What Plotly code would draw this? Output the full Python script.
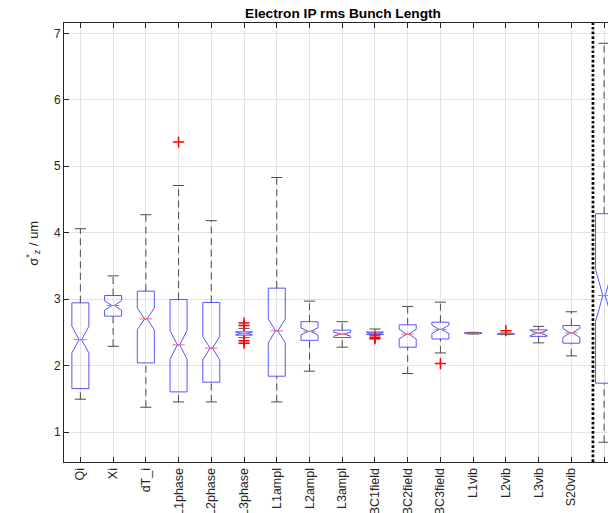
import plotly.graph_objects as go

# ---------------- data ----------------
categories = ["Qi", "Xi", "dT_i", "L1phase", "L2phase", "L3phase", "L1ampl",
              "L2ampl", "L3ampl", "BC1field", "BC2field", "BC3field",
              "L1vib", "L2vib", "L3vib", "S20vib", "All"]

upper_whisker = [4.06, 3.35, 4.27, 4.71, 4.18, 2.56, 4.83, 2.97, 2.66, 2.55,
                 2.89, 2.955, 2.50, 2.49, 2.59, 2.81, 6.85]
q3_values = [2.944, 3.054, 3.12, 2.994, 2.949, 2.508, 3.165, 2.66, 2.533, 2.505,
             2.613, 2.653, 2.492, 2.483, 2.538, 2.603, 4.285]
median_values = [2.39, 2.904, 2.703, 2.312, 2.262, 2.483, 2.523, 2.515, 2.473, 2.488,
                 2.473, 2.545, 2.487, 2.478, 2.49, 2.492, 3.054]
q1_values = [1.654, 2.744, 2.04, 1.604, 1.75, 2.458, 1.84, 2.38, 2.422, 2.467,
             2.277, 2.40, 2.482, 2.472, 2.44, 2.337, 1.735]
lower_whisker = [1.494, 2.29, 1.373, 1.453, 1.453, 2.42, 1.453, 1.916, 2.277, 2.455,
                 1.88, 2.19, 2.475, 2.466, 2.342, 2.146, 0.846]
notch_span = [0.20, 0.072, 0.163, 0.216, 0.176, 0.02, 0.18, 0.053, 0.03, 0.015,
              0.073, 0.063, 0.004, 0.004, 0.04, 0.068, 0.39]

outlier_category = ["L1phase", "L3phase", "L3phase", "L3phase", "L3phase",
                    "BC1field", "BC1field", "BC3field", "L2vib"]
outlier_values = [5.364, 2.64, 2.603, 2.372, 2.337, 2.425, 2.405, 2.03, 2.525]

y_ticks = [1, 2, 3, 4, 5, 6, 7]
separator_position = 16.66

# ---------------- styling ----------------
FONT = "Liberation Sans, Arial, Helvetica, sans-serif"
AXC = "#262626"
GRID = "#e3e3e3"
BOXC = "rgb(85,85,255)"
MEDC = "rgb(255,105,105)"
WHC = "rgb(75,75,75)"

positions = list(range(1, len(categories) + 1))
pos_of = {c: p for c, p in zip(categories, positions)}

fig = go.Figure()

# whiskers (dashed)
wx, wy = [], []
for p, up, q3, q1, lo in zip(positions, upper_whisker, q3_values, q1_values, lower_whisker):
    wx += [p, p, None, p, p, None]
    wy += [q3, up, None, lo, q1, None]
fig.add_trace(go.Scatter(x=wx, y=wy, mode="lines",
                         line=dict(color=WHC, width=1, dash="7px,4.5px"),
                         hoverinfo="skip", showlegend=False))
# whisker caps
fig.add_trace(go.Scatter(x=positions + positions, y=upper_whisker + lower_whisker,
                         mode="markers",
                         marker=dict(symbol="line-ew", size=8,
                                     line=dict(color=WHC, width=1)),
                         hoverinfo="skip", showlegend=False))

# notched boxes
fig.add_trace(go.Box(x=positions, q1=q1_values, median=median_values, q3=q3_values,
                     lowerfence=q1_values, upperfence=q3_values,
                     notchspan=notch_span, notched=True, notchwidth=0.43,
                     width=0.52, whiskerwidth=0, boxpoints=False,
                     line=dict(color=BOXC, width=1),
                     fillcolor="rgba(0,0,0,0)",
                     hoverinfo="skip", showlegend=False))

# medians in red
fig.add_trace(go.Scatter(x=positions, y=median_values, mode="markers",
                         marker=dict(symbol="line-ew", size=9,
                                     line=dict(color=MEDC, width=1)),
                         hoverinfo="skip", showlegend=False))

# outliers
fig.add_trace(go.Scatter(x=[pos_of[c] for c in outlier_category], y=outlier_values,
                         mode="markers",
                         marker=dict(symbol="cross-thin", size=8,
                                     line=dict(color="red", width=1.5)),
                         hoverinfo="skip", showlegend=False))

# separator
fig.add_shape(type="line", xref="x", yref="paper",
              x0=separator_position, x1=separator_position, y0=0, y1=1,
              line=dict(color="black", width=2.7, dash="2.7px,2px"))

fig.add_annotation(text="σ<sup>*</sup><sub>z</sub> / um", textangle=-90,
                   xref="paper", yref="paper", x=(33 - 64) / 544, y=0.497,
                   xanchor="center", yanchor="middle", showarrow=False,
                   font=dict(family=FONT, size=13, color=AXC))

fig.update_layout(
    width=608, height=513,
    margin=dict(l=64, r=0, t=23, b=51, autoexpand=False),
    paper_bgcolor="white", plot_bgcolor="white",
    title=dict(text="Electron IP rms Bunch Length", x=343 / 608, xref="container",
               xanchor="center", y=1 - 13.5 / 513, yref="container", yanchor="middle",
               font=dict(family=FONT, size=13.7, color="black", weight="bold")),
    xaxis=dict(range=[0.5, 17.12], tickvals=positions, ticktext=categories,
               tickangle=-90, ticks="inside", ticklen=5, tickcolor=AXC,
               showline=True, linecolor=AXC, linewidth=1, mirror="ticks",
               showgrid=True, gridcolor=GRID, zeroline=False, automargin=False,
               tickfont=dict(family=FONT, size=12.5, color=AXC)),
    yaxis=dict(range=[0.549, 7.155], tickvals=y_ticks, ticks="inside", ticklen=5,
               tickcolor=AXC, showline=True, linecolor=AXC, linewidth=1, mirror=False,
               showgrid=True, gridcolor=GRID, zeroline=False, automargin=False,
               tickfont=dict(family=FONT, size=12, color=AXC)),
)

fig.write_html("out.html")
